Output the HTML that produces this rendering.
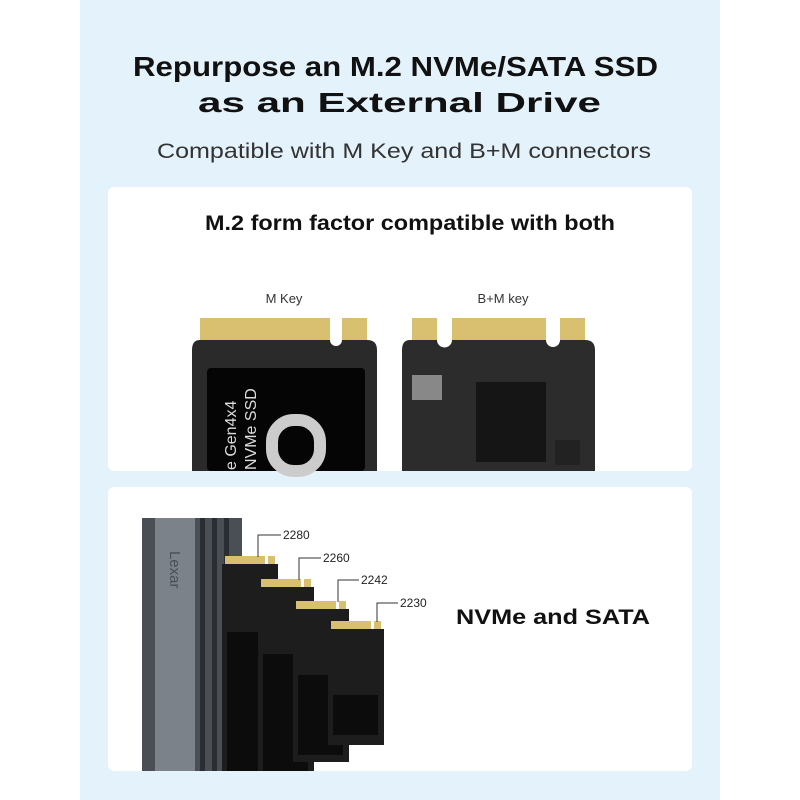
<!DOCTYPE html>
<html><head><meta charset="utf-8"><style>
html,body{margin:0;padding:0;width:800px;height:800px;background:#fff;overflow:hidden}
</style></head><body>
<svg width="800" height="800" viewBox="0 0 800 800" xmlns="http://www.w3.org/2000/svg" font-family="Liberation Sans, sans-serif">
<rect x="80" y="0" width="640" height="800" fill="#e4f2fb"/>
<text x="133" y="76" font-size="28" font-weight="bold" fill="#111" textLength="525" lengthAdjust="spacingAndGlyphs">Repurpose an M.2 NVMe/SATA SSD</text>
<text x="198" y="112" font-size="28" font-weight="bold" fill="#111" textLength="403" lengthAdjust="spacingAndGlyphs">as an External Drive</text>
<text x="157" y="158" font-size="21" fill="#333" textLength="494" lengthAdjust="spacingAndGlyphs">Compatible with M Key and B+M connectors</text>
<rect x="108" y="187" width="584" height="284" rx="6" fill="#fff"/>
<rect x="108" y="487" width="584" height="284" rx="6" fill="#fff"/>
<text x="205" y="230" font-size="21" font-weight="bold" fill="#111" textLength="410" lengthAdjust="spacingAndGlyphs">M.2 form factor compatible with both</text>
<text x="284" y="303" text-anchor="middle" font-size="13" fill="#333">M Key</text>
<text x="503" y="303" text-anchor="middle" font-size="13" fill="#333">B+M key</text>
<!-- left SSD -->
<rect x="200" y="318" width="130" height="22" fill="#d9c070"/>
<rect x="342" y="318" width="25" height="22" fill="#d9c070"/>
<path d="M192 350 Q192 340 200 340 L330 340 A6 6 0 0 0 342 340 L367 340 Q377 340 377 350 L377 471 L192 471 Z" fill="#2a2a2a"/>
<rect x="207" y="368" width="158" height="103" rx="4" fill="#050505"/>
<text transform="translate(236,470) rotate(-90)" font-size="16" fill="#ddd">e Gen4x4</text>
<text transform="translate(256,470) rotate(-90)" font-size="16" fill="#ddd">NVMe SSD</text>
<rect x="272" y="420" width="48" height="51" rx="22" fill="none" stroke="#ccc" stroke-width="12"/>
<!-- right SSD -->
<rect x="412" y="318" width="25" height="22" fill="#d9c070"/>
<rect x="452" y="318" width="94" height="22" fill="#d9c070"/>
<rect x="560" y="318" width="25" height="22" fill="#d9c070"/>
<path d="M402 350 Q402 340 410 340 L437 340 A7 7 0 0 0 452 340 L546 340 A7 7 0 0 0 560 340 L585 340 Q595 340 595 350 L595 471 L402 471 Z" fill="#2c2c2c"/>
<rect x="476" y="382" width="70" height="80" fill="#151515"/>
<rect x="412" y="375" width="30" height="25" fill="#888"/>
<rect x="555" y="440" width="25" height="25" fill="#222"/>
<!-- enclosure -->
<rect x="142" y="518" width="100" height="253" fill="#4a4f56"/>
<rect x="155" y="518" width="40" height="253" fill="#7c828a"/>
<rect x="200" y="518" width="5" height="253" fill="#2a2d31"/>
<rect x="212" y="518" width="5" height="253" fill="#2a2d31"/>
<rect x="224" y="518" width="5" height="253" fill="#2a2d31"/>
<text transform="translate(170,551) rotate(90)" font-size="15" fill="#4a4f56">Lexar</text>
<!-- SSD sticks -->
<g>
<rect x="225" y="556" width="40" height="8" fill="#d9c070"/><rect x="268" y="556" width="7" height="8" fill="#d9c070"/>
<rect x="222" y="564" width="56" height="207" fill="#1d1d1d"/>
<rect x="227" y="632" width="45" height="139" fill="#0c0c0c"/>
<rect x="261" y="579" width="40" height="8" fill="#d9c070"/><rect x="304" y="579" width="7" height="8" fill="#d9c070"/>
<rect x="258" y="587" width="56" height="184" fill="#1d1d1d"/>
<rect x="263" y="654" width="45" height="117" fill="#0c0c0c"/>
<rect x="296" y="601" width="40" height="8" fill="#d9c070"/><rect x="339" y="601" width="7" height="8" fill="#d9c070"/>
<rect x="293" y="609" width="56" height="153" fill="#1d1d1d"/>
<rect x="298" y="675" width="45" height="80" fill="#0c0c0c"/>
<rect x="331" y="621" width="40" height="8" fill="#d9c070"/><rect x="374" y="621" width="7" height="8" fill="#d9c070"/>
<rect x="328" y="629" width="56" height="116" fill="#1d1d1d"/>
<rect x="333" y="695" width="45" height="40" fill="#0c0c0c"/>
</g>
<g stroke="#333" stroke-width="1" fill="none">
<path d="M258 557 V535 H281"/><path d="M299 580 V558 H321"/><path d="M338 602 V580 H359"/><path d="M377 622 V603 H398"/>
</g>
<g font-size="12" fill="#222">
<text x="283" y="539">2280</text><text x="323" y="562">2260</text><text x="361" y="584">2242</text><text x="400" y="607">2230</text>
</g>
<text x="456" y="624" font-size="21" font-weight="bold" fill="#111" textLength="194" lengthAdjust="spacingAndGlyphs">NVMe and SATA</text>
</svg>
</body></html>
